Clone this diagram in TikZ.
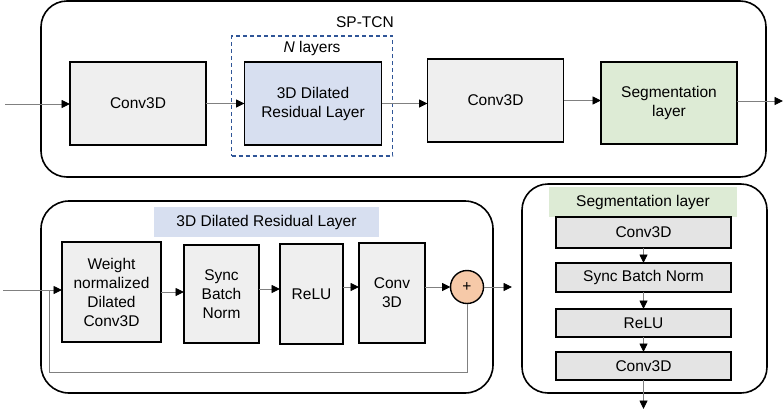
\documentclass[tikz,border=0pt]{standalone}
\usepackage{fontspec}
\setmainfont{Liberation Sans}
\usetikzlibrary{arrows.meta,calc}
\definecolor{boxfill}{HTML}{EFEFEF}
\definecolor{segfillbox}{HTML}{E4E4E4}
\definecolor{bluefill}{HTML}{D7DFF0}
\definecolor{greenfill}{HTML}{DDEBD5}
\definecolor{dashblue}{HTML}{2F5597}
\definecolor{plusfill}{HTML}{F6C9A8}
\definecolor{linegray}{HTML}{808080}
\begin{document}
\begin{tikzpicture}[x=1pt,y=-1pt,
  every node/.style={font=\fontsize{15.5}{19}\selectfont, inner sep=0pt, outer sep=0pt},
  outerbox/.style={draw=black, line width=1.6pt, rounded corners=26pt, rectangle},
  blk/.style={draw=black, line width=1.5pt, fill=boxfill, rectangle, align=center},
  sblk/.style={draw=black, line width=1.2pt, fill=segfillbox, rectangle, align=center},
  conn/.style={draw=linegray, line width=0.9pt, -{Triangle[length=8.5pt,width=8pt,color=black,fill=black]}},
  plainconn/.style={draw=linegray, line width=0.9pt}
]
\useasboundingbox (0,0) rectangle (783,410);

% ---------- top: SP-TCN ----------
\node[outerbox, minimum width=725pt, minimum height=176pt] (sptcn) at (403.5,89) {};
\node (sptcnlabel) at (365,22) {SP-TCN};
\node[draw=dashblue, dashed, line width=1.3pt, dash pattern=on 4pt off 3pt, minimum width=161pt, minimum height=120pt] (nbox) at (312,96) {};
\node (nlabel) at (312,48) {\textit{N} layers};
\node[blk, minimum width=136pt, minimum height=83pt] (c1) at (138,103.5) {Conv3D};
\node[blk, fill=bluefill, minimum width=137pt, minimum height=83pt] (dil) at (313,103.5) {3D Dilated\\Residual Layer};
\node[blk, minimum width=136pt, minimum height=83pt] (c2) at (495.5,100.5) {Conv3D};
\node[blk, fill=greenfill, minimum width=136pt, minimum height=82pt] (seg) at (669,103) {Segmentation\\layer};
\coordinate (tin) at (5,104);
\coordinate (tout) at (783,101);
\draw[conn] (tin) -- (tin -| c1.west);
\draw[conn] (c1.east) -- (c1.east -| dil.west);
\draw[conn] (dil.east) -- (dil.east -| c2.west);
\draw[conn] (c2.east) -- (c2.east -| seg.west);
\draw[conn] (seg.east |- tout) -- (tout);

% ---------- bottom left: 3D Dilated Residual Layer ----------
\node[outerbox, rounded corners=28pt, minimum width=452pt, minimum height=192pt] (drl) at (267,297) {};
\node[fill=bluefill, minimum width=225pt, minimum height=30pt] (drltitle) at (266.5,222) {3D Dilated Residual Layer};
\node[blk, minimum width=99pt, minimum height=100pt] (w) at (111.5,292) {Weight\\normalized\\Dilated\\Conv3D};
\node[blk, minimum width=75pt, minimum height=98pt] (sbn) at (221.5,294) {Sync\\Batch\\Norm};
\node[blk, minimum width=63pt, minimum height=100pt] (relu) at (311.5,294) {ReLU};
\node[blk, minimum width=66pt, minimum height=100pt] (cv) at (392,293) {Conv\\3D};
\node[circle, draw=black, line width=1.4pt, fill=plusfill, minimum size=33pt] (plus) at (467,287) {+};
\coordinate (bin) at (3,290);
\coordinate (split) at (49,290);
\coordinate (bot) at (49,372);
\coordinate (bout) at (512,287);
\draw[conn] (bin) -- (bin -| w.west);
\draw[plainconn] (split) -- (bot) -- (bot -| plus.south) -- (plus.south);
\draw[conn] (w.east) -- (w.east -| sbn.west);
\draw[conn] ([yshift=5pt]sbn.east) -- ([yshift=5pt]sbn.east -| relu.west);
\draw[conn] ([yshift=7pt]relu.east) -- ([yshift=7pt]relu.east -| cv.west);
\draw[conn] (cv.east |- plus) -- (plus.west);
\draw[conn] (plus.east) -- (bout);

% ---------- bottom right: Segmentation layer ----------
\node[outerbox, rounded corners=26pt, minimum width=245pt, minimum height=209pt] (segl) at (644.5,288.5) {};
\node[fill=greenfill, minimum width=188pt, minimum height=30pt] (segtitle) at (643,202) {Segmentation layer};
\node[sblk, minimum width=175pt, minimum height=31pt] (s1) at (643.5,232.5) {Conv3D};
\node[sblk, minimum width=175pt, minimum height=29pt] (s2) at (643.5,277.5) {Sync Batch Norm};
\node[sblk, minimum width=175pt, minimum height=28pt] (s3) at (643.5,323) {ReLU};
\node[sblk, minimum width=175pt, minimum height=28pt] (s4) at (643.5,366) {Conv3D};
\coordinate (sout) at (643.5,409);
\draw[conn] (s1.south) -- (s2.north);
\draw[conn] (s2.south) -- (s3.north);
\draw[conn] (s3.south) -- (s4.north);
\draw[conn] (s4.south) -- (sout);
\end{tikzpicture}
\end{document}
